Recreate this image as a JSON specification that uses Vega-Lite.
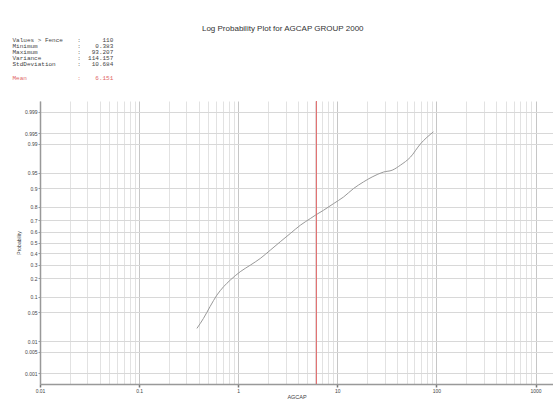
{
  "$schema": "https://vega.github.io/schema/vega-lite/v6.json",
  "padding": {"left": 12, "top": 24, "right": 0, "bottom": 0},
  "background": "white",
  "title": {
    "text": "Log Probability Plot for AGCAP GROUP 2000",
    "font": "Liberation Sans",
    "fontSize": 8,
    "fontWeight": "normal",
    "color": "#333333",
    "anchor": "middle",
    "offset": 4
  },
  "datasets": {
    "curve": [
      {"agcap": 0.383, "p": 0.0213},
      {"agcap": 0.446, "p": 0.0366},
      {"agcap": 0.521, "p": 0.0656},
      {"agcap": 0.609, "p": 0.107},
      {"agcap": 0.711, "p": 0.148},
      {"agcap": 0.83, "p": 0.187},
      {"agcap": 1.047, "p": 0.245},
      {"agcap": 1.322, "p": 0.296},
      {"agcap": 1.668, "p": 0.353},
      {"agcap": 2.105, "p": 0.428},
      {"agcap": 2.656, "p": 0.507},
      {"agcap": 3.352, "p": 0.584},
      {"agcap": 4.23, "p": 0.658},
      {"agcap": 5.34, "p": 0.714},
      {"agcap": 5.99, "p": 0.74},
      {"agcap": 7.27, "p": 0.777},
      {"agcap": 9.18, "p": 0.821},
      {"agcap": 11.58, "p": 0.859},
      {"agcap": 14.61, "p": 0.899},
      {"agcap": 18.44, "p": 0.924},
      {"agcap": 22.42, "p": 0.939},
      {"agcap": 29.37, "p": 0.952},
      {"agcap": 35.71, "p": 0.956},
      {"agcap": 43.28, "p": 0.966},
      {"agcap": 54.6, "p": 0.978},
      {"agcap": 68.9, "p": 0.99},
      {"agcap": 93.207, "p": 0.9955}
    ],
    "mean": [{"agcap": 6.151}]
  },
  "vconcat": [
    {
      "width": 513,
      "height": 283,
      "title": {
        "text": [
          "Values > Fence\u00a0\u00a0\u00a0\u00a0:\u00a0\u00a0\u00a0\u00a0\u00a0\u00a0110",
          "Minimum\u00a0\u00a0\u00a0\u00a0\u00a0\u00a0\u00a0\u00a0\u00a0\u00a0\u00a0:\u00a0\u00a0\u00a0\u00a00.383",
          "Maximum\u00a0\u00a0\u00a0\u00a0\u00a0\u00a0\u00a0\u00a0\u00a0\u00a0\u00a0:\u00a0\u00a0\u00a093.207",
          "Variance\u00a0\u00a0\u00a0\u00a0\u00a0\u00a0\u00a0\u00a0\u00a0\u00a0:\u00a0\u00a0114.157",
          "StdDeviation\u00a0\u00a0\u00a0\u00a0\u00a0\u00a0:\u00a0\u00a0\u00a010.684"
        ],
        "subtitle": "Mean\u00a0\u00a0\u00a0\u00a0\u00a0\u00a0\u00a0\u00a0\u00a0\u00a0\u00a0\u00a0\u00a0\u00a0:\u00a0\u00a0\u00a0\u00a06.151",
        "anchor": "start",
        "frame": "bounds",
        "font": "Liberation Mono",
        "fontSize": 6,
        "fontWeight": "normal",
        "lineHeight": 6.2,
        "color": "#444444",
        "subtitleFont": "Liberation Mono",
        "subtitleFontSize": 6,
        "subtitleLineHeight": 6,
        "subtitleColor": "#e06666",
        "subtitlePadding": 7,
        "offset": 20,
        "dx": -4
      },
      "encoding": {
        "x": {
          "field": "agcap",
          "type": "quantitative",
          "scale": {"type": "log", "domain": [0.01, 1500], "nice": false},
          "axis": {
            "title": "AGCAP",
            "titleFont": "Liberation Sans",
            "titleFontSize": 5.5,
            "titleFontWeight": "normal",
            "titleColor": "#444444",
            "titlePadding": 1,
            "values": [0.01, 0.02, 0.03, 0.04, 0.05, 0.06, 0.07, 0.08, 0.09,
                       0.1, 0.2, 0.3, 0.4, 0.5, 0.6, 0.7, 0.8, 0.9,
                       1, 2, 3, 4, 5, 6, 7, 8, 9,
                       10, 20, 30, 40, 50, 60, 70, 80, 90,
                       100, 200, 300, 400, 500, 600, 700, 800, 900, 1000],
            "format": "~g",
            "labelExpr": "abs(log(datum.value)/LN10 - round(log(datum.value)/LN10)) < 0.001 ? datum.label : ''",
            "labelFont": "Liberation Sans",
            "labelFontSize": 5,
            "labelColor": "#444444",
            "labelPadding": 1,
            "labelOverlap": false,
            "labelFlush": false,
            "tickSize": 3,
            "tickWidth": 1.5,
            "tickColor": {"condition": {"test": "abs(log(datum.value)/LN10 - round(log(datum.value)/LN10)) < 0.001", "value": "#777777"}, "value": "transparent"},
            "domainColor": "#999999",
            "domainWidth": 1.5,
            "grid": true,
            "gridWidth": 1,
            "gridColor": {"condition": {"test": "abs(log(datum.value)/LN10 - round(log(datum.value)/LN10)) < 0.001", "value": "#c6c6c6"}, "value": "#e2e2e2"}
          }
        }
      },
      "layer": [
        {
          "data": {"name": "curve"},
          "transform": [{"calculate": "quantileNormal(datum.p)", "as": "z"}],
          "mark": {"type": "line", "color": "#999999", "strokeWidth": 1, "interpolate": "monotone"},
          "encoding": {
            "y": {
              "field": "z",
              "type": "quantitative",
              "scale": {"domain": [-3.34, 3.34], "nice": false, "zero": false},
              "axis": {
                "title": "Probability",
                "titleFont": "Liberation Sans",
                "titleFontSize": 5,
                "titleFontWeight": "normal",
                "titleColor": "#444444",
                "titlePadding": 3,
                "values": [-3.090232, -2.575829, -2.326348, -1.644854, -1.281552, -0.841621, -0.524401, -0.253347, 0,
                           0.253347, 0.524401, 0.841621, 1.281552, 1.644854, 2.326348, 2.575829, 3.090232],
                "labelExpr": "format(cumulativeNormal(datum.value), '.3~r')",
                "labelFont": "Liberation Sans",
                "labelFontSize": 5,
                "labelColor": "#444444",
                "labelPadding": 1,
                "labelOverlap": false,
                "labelFlush": false,
                "tickSize": 2,
                "tickColor": "#999999",
                "domainColor": "#999999",
                "domainWidth": 1.5,
                "grid": true,
                "gridWidth": 1,
                "gridColor": "#d8d8d8"
              }
            }
          }
        },
        {
          "data": {"name": "mean"},
          "mark": {"type": "rule", "color": "#e06666", "strokeWidth": 1}
        }
      ]
    }
  ],
  "config": {"view": {"stroke": null}}
}
